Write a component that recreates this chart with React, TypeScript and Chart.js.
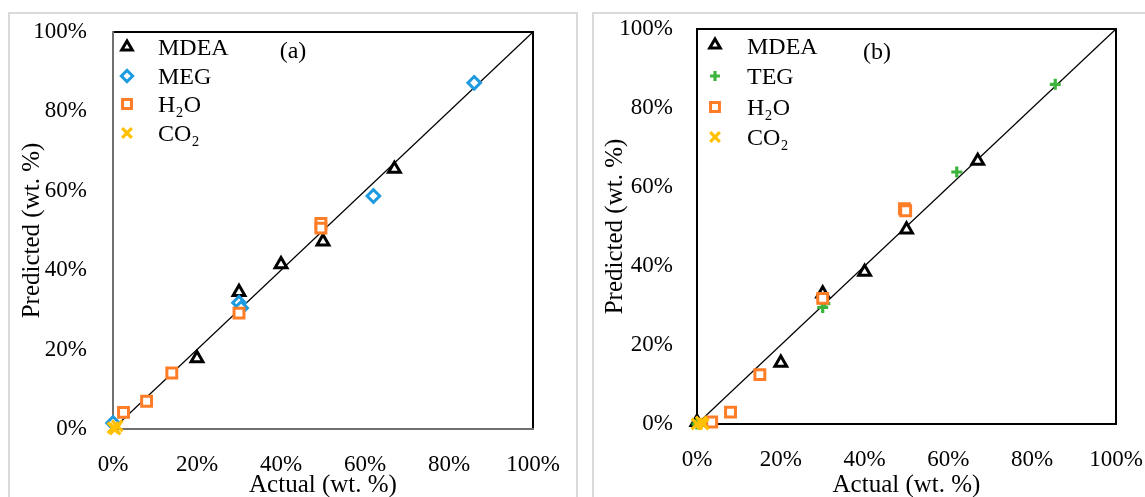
import React, { useEffect, useRef } from 'react';
import { Chart, registerables } from 'chart.js';
import { drawPoint } from 'chart.js/helpers';

Chart.register(...registerables);

// ---------- data ----------
const TICK_VALUES = [0, 20, 40, 60, 80, 100];
const TICK_LABELS = ['0%', '20%', '40%', '60%', '80%', '100%'];
const DIAG_X = [0, 100];
const DIAG_Y = [0, 100];

// Panel (a)
const mdeaActualA = [20, 30, 40, 50, 67];
const mdeaPredA = [17.8, 34.5, 41.5, 47.2, 65.5];
const megActualA = [0, 30, 30.5, 62, 86];
const megPredA = [1.5, 31.8, 30.5, 58.7, 87.2];
const h2oActualA = [2.5, 8, 14, 30, 49.5, 49.5];
const h2oPredA = [4.2, 7, 14.1, 29.2, 51.8, 50.6];
const co2ActualA = [0, 1, 0.5];
const co2PredA = [0.3, 0.8, 0];

// Panel (b)
const mdeaActualB = [0, 20, 30, 40, 50, 67];
const mdeaPredB = [0.5, 15.5, 33, 38.5, 49.2, 66.6];
const tegActualB = [0, 30, 30.5, 62, 85.5];
const tegPredB = [0, 29.5, 30.5, 63.8, 86];
const h2oActualB = [3.5, 8, 15, 30, 49.5, 49.8];
const h2oPredB = [0.5, 3, 12.5, 31.8, 54.5, 54];
const co2ActualB = [0, 1, 1.5];
const co2PredB = [0, 0.5, 0];

const FONT = "'Liberation Serif', 'Times New Roman', serif";
const TICK_SIZE = 23;
const TITLE_SIZE = 25;
const LEGEND_SIZE = 24;
const BLUE = '#1e9be0';
const ORANGE = '#ff7d26';
const YELLOW = '#ffc000';
const GREEN = '#3cb33c';

const zip = (xs: number[], ys: number[]) => xs.map((x, i) => ({ x, y: ys[i] }));

type Series = {
  label: string;
  xs: number[];
  ys: number[];
  style: string;
  radius: number;
  width: number;
  color: string;
};

type Spec = {
  left: number;
  w: number;
  area: { left: number; top: number; right: number; bottom: number };
  yTickPad: number;
  yTitlePad: number;
  tag: string;
  tagX: number;
  tagY: number;
  legX: number;
  legTextX: number;
  legMarkY: number[];
  legTextY: number[];
  leftBottomColor: string;
  series: Series[];
};

const seriesA: Series[] = [
  { label: 'MDEA', xs: mdeaActualA, ys: mdeaPredA, style: 'triangle', radius: 6.8, width: 3, color: '#000' },
  { label: 'MEG', xs: megActualA, ys: megPredA, style: 'rectRot', radius: 6.3, width: 3, color: BLUE },
  { label: 'H₂O', xs: h2oActualA, ys: h2oPredA, style: 'rect', radius: 7, width: 3, color: ORANGE },
  { label: 'CO₂', xs: co2ActualA, ys: co2PredA, style: 'crossRot', radius: 7.5, width: 3.2, color: YELLOW },
];

const seriesB: Series[] = [
  { label: 'MDEA', xs: mdeaActualB, ys: mdeaPredB, style: 'triangle', radius: 6.8, width: 3, color: '#000' },
  { label: 'TEG', xs: tegActualB, ys: tegPredB, style: 'cross', radius: 5.5, width: 3.2, color: GREEN },
  { label: 'H₂O', xs: h2oActualB, ys: h2oPredB, style: 'rect', radius: 7, width: 3, color: ORANGE },
  { label: 'CO₂', xs: co2ActualB, ys: co2PredB, style: 'crossRot', radius: 7.5, width: 3.2, color: YELLOW },
];

const specA: Spec = {
  left: 0,
  w: 580,
  area: { left: 113, top: 32, right: 533, bottom: 429 },
  yTickPad: 26,
  yTitlePad: 20,
  tag: '(a)',
  tagX: 293,
  tagY: 58,
  legX: 127,
  legTextX: 158,
  legMarkY: [47, 76, 104, 133],
  legTextY: [55, 84, 112, 141],
  leftBottomColor: '#707070',
  series: seriesA,
};

const specB: Spec = {
  left: 584,
  w: 561,
  area: { left: 113, top: 29, right: 532, bottom: 424 },
  yTickPad: 24,
  yTitlePad: 19,
  tag: '(b)',
  tagX: 293,
  tagY: 59,
  legX: 131,
  legTextX: 163,
  legMarkY: [45, 76, 107, 137],
  legTextY: [54, 84, 115, 145],
  leftBottomColor: '#000',
  series: seriesB,
};

function makeChart(canvas: HTMLCanvasElement, spec: Spec) {
  const H = 497;
  const a = spec.area;
  const overlay = {
    id: 'overlay',
    beforeDatasetsDraw(chart: any) {
      const ctx = chart.ctx;
      const ca = chart.chartArea;
      ctx.save();
      ctx.lineWidth = 2;
      ctx.lineCap = 'square';
      ctx.strokeStyle = '#000';
      ctx.beginPath();
      ctx.moveTo(ca.left, ca.top);
      ctx.lineTo(ca.right, ca.top);
      ctx.lineTo(ca.right, ca.bottom);
      ctx.stroke();
      ctx.strokeStyle = spec.leftBottomColor;
      ctx.beginPath();
      ctx.moveTo(ca.left, ca.top);
      ctx.lineTo(ca.left, ca.bottom);
      ctx.lineTo(ca.right, ca.bottom);
      ctx.stroke();
      ctx.restore();
    },
    afterDatasetsDraw(chart: any) {
      const ctx = chart.ctx;
      ctx.save();
      spec.series.forEach((s, i) => {
        ctx.lineWidth = s.width;
        ctx.strokeStyle = s.color;
        ctx.fillStyle = '#fff';
        drawPoint(ctx, { pointStyle: s.style as any, radius: s.radius * 0.9, rotation: 0, borderWidth: s.width } as any, spec.legX, spec.legMarkY[i]);
      });
      ctx.fillStyle = '#000';
      ctx.font = `${LEGEND_SIZE}px ${FONT}`;
      ctx.textAlign = 'left';
      ctx.textBaseline = 'alphabetic';
      spec.series.forEach((s, i) => {
        ctx.fillText(s.label, spec.legTextX, spec.legTextY[i]);
      });
      ctx.textAlign = 'center';
      ctx.fillText(spec.tag, spec.tagX, spec.tagY);
      ctx.restore();
    },
  };

  const tickCb = (v: any) => {
    const i = TICK_VALUES.indexOf(Number(v));
    return i >= 0 ? TICK_LABELS[i] : '';
  };

  const n = spec.series.length;
  const datasets: any[] = spec.series.map((s, i) => ({
    label: s.label,
    data: zip(s.xs, s.ys),
    order: n - i, // later series drawn on top
    pointStyle: s.style,
    pointRadius: s.radius,
    pointHoverRadius: s.radius,
    pointBorderWidth: s.width,
    pointHoverBorderWidth: s.width,
    borderColor: s.color,
    backgroundColor: '#fff',
    pointBackgroundColor: '#fff',
    pointBorderColor: s.color,
    showLine: false,
    clip: false,
  }));
  datasets.push({
    label: 'diag',
    data: zip(DIAG_X, DIAG_Y),
    order: n + 1,
    showLine: true,
    pointRadius: 0,
    pointHoverRadius: 0,
    borderColor: '#000',
    borderWidth: 1.2,
    clip: false,
  });

  return new Chart(canvas, {
    type: 'scatter',
    data: { datasets },
    options: {
      animation: false,
      responsive: false,
      events: [],
      layout: { padding: { left: 0, top: a.top, right: spec.w - a.right, bottom: 0 } },
      plugins: { legend: { display: false }, tooltip: { enabled: false } },
      scales: {
        x: {
          type: 'linear',
          min: 0,
          max: 100,
          afterBuildTicks: (s: any) => {
            s.ticks = TICK_VALUES.map((v) => ({ value: v }));
          },
          afterFit: (s: any) => {
            s.height = H - a.bottom;
            s.paddingLeft = 0;
            s.paddingRight = 0;
          },
          ticks: { callback: tickCb, padding: 22, color: '#000', font: { family: FONT, size: TICK_SIZE }, maxRotation: 0, autoSkip: false },
          grid: { display: false, drawTicks: false },
          border: { display: false },
          title: {
            display: true,
            text: 'Actual (wt. %)',
            color: '#000',
            font: { family: FONT, size: TITLE_SIZE, lineHeight: 1 },
            padding: { top: 0, bottom: -1 },
          },
        },
        y: {
          type: 'linear',
          min: 0,
          max: 100,
          afterBuildTicks: (s: any) => {
            s.ticks = TICK_VALUES.map((v) => ({ value: v }));
          },
          afterFit: (s: any) => {
            s.width = a.left;
            s.paddingTop = 0;
            s.paddingBottom = 0;
          },
          ticks: { callback: tickCb, padding: spec.yTickPad, color: '#000', font: { family: FONT, size: TICK_SIZE }, autoSkip: false },
          grid: { display: false, drawTicks: false },
          border: { display: false },
          title: {
            display: true,
            text: 'Predicted (wt. %)',
            color: '#000',
            font: { family: FONT, size: TITLE_SIZE, lineHeight: 1 },
            padding: { top: spec.yTitlePad, bottom: 0 },
          },
        },
      },
    },
    plugins: [overlay],
  } as any);
}

function Panel({ spec }: { spec: Spec }) {
  const ref = useRef<HTMLCanvasElement | null>(null);
  useEffect(() => {
    if (!ref.current) return;
    const c = makeChart(ref.current, spec);
    return () => c.destroy();
  }, []);
  return (
    <canvas
      ref={ref}
      width={spec.w}
      height={497}
      style={{ position: 'fixed', left: spec.left, top: 0, width: spec.w, height: 497, display: 'block' }}
    />
  );
}

export default function App() {
  const frame: React.CSSProperties = {
    position: 'fixed',
    top: 12,
    height: 520,
    boxSizing: 'border-box',
    border: '2px solid #dadada',
    background: '#fff',
  };
  return (
    <div>
      <div style={{ ...frame, left: 8, width: 570 }} />
      <div style={{ ...frame, left: 592, width: 600 }} />
      <Panel spec={specA} />
      <Panel spec={specB} />
    </div>
  );
}
